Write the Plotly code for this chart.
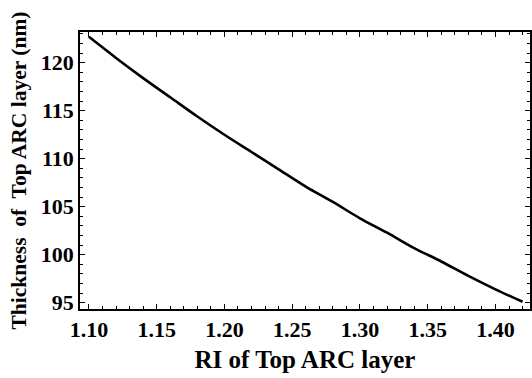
import plotly.graph_objects as go

ri = [1.10, 1.12, 1.14, 1.16, 1.18, 1.20, 1.22, 1.24, 1.26, 1.28, 1.30,
      1.32, 1.34, 1.36, 1.38, 1.40, 1.42]
thickness = [122.7, 120.5, 118.4, 116.4, 114.4, 112.5, 110.7, 108.9, 107.1,
             105.5, 103.8, 102.3, 100.7, 99.3, 97.8, 96.4, 95.1]
x_ticks = [1.10, 1.15, 1.20, 1.25, 1.30, 1.35, 1.40]
y_ticks = [95, 100, 105, 110, 115, 120]

FONT = "Liberation Serif"

fig = go.Figure()
fig.add_trace(go.Scatter(x=ri, y=thickness, mode="lines",
                         line=dict(color="black", width=2.6, shape="spline"),
                         showlegend=False, hoverinfo="skip"))

axis_common = dict(
    showgrid=False, zeroline=False, automargin=False,
    showline=True, linecolor="black", linewidth=1.5,
    mirror="allticks", ticks="inside", ticklen=5, tickwidth=1.2, tickcolor="black",
    minor=dict(ticks="inside", ticklen=3, tickwidth=1, tickcolor="black", showgrid=False),
    tickfont=dict(family=FONT, size=22, color="black", weight="bold"),
)

fig.update_layout(
    width=532, height=378, autosize=False,
    margin=dict(l=80, r=2, t=32, b=69),
    paper_bgcolor="white", plot_bgcolor="white",
    xaxis=dict(axis_common, range=[1.0934, 1.4255], tickvals=x_ticks,
               ticktext=[f"{v:.2f}" for v in x_ticks],
               minor=dict(axis_common["minor"], dtick=0.01, tick0=1.10),
               title=dict(text="<b>RI of Top ARC layer</b>",
                          font=dict(family=FONT, size=25, color="black"), standoff=9)),
    yaxis=dict(axis_common, range=[94.35, 123.2], tickvals=y_ticks,
               minor=dict(axis_common["minor"], dtick=1, tick0=95),
               title=dict(text="<b>Thickness&nbsp; of&nbsp; Top ARC layer (nm)</b>",
                          font=dict(family=FONT, size=21.5, color="black"), standoff=8)),
)

fig.write_html("out.html")
